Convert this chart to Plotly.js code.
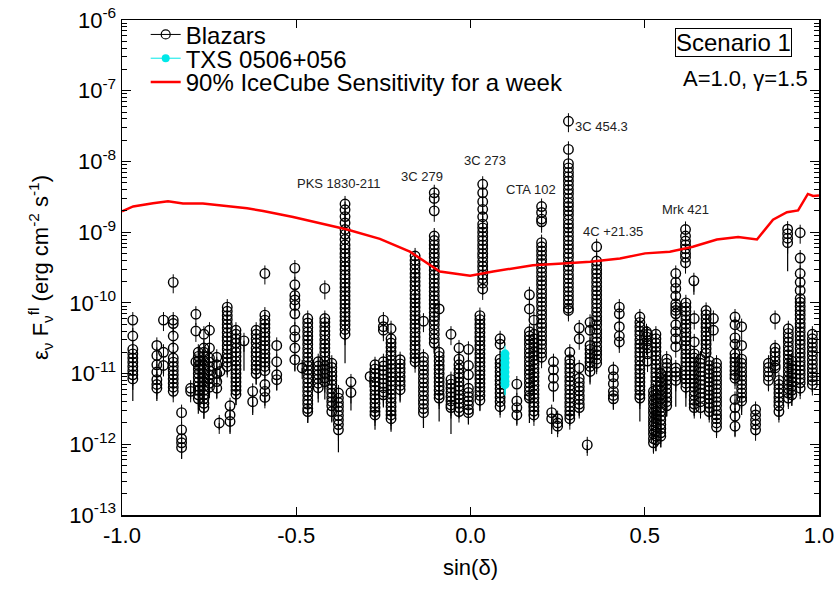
<!DOCTYPE html>
<html>
<head>
<meta charset="utf-8">
<script src="https://cdn.plot.ly/plotly-3.0.1.min.js"></script>
<style>html,body{margin:0;padding:0;background:#fff;}#chart{width:837px;height:597px;}</style>
</head>
<body>
<div id="chart"></div>
<script>
// ---- Blazars: sin(declination) of each source, its flare fluxes, and lower end of the error bar of its faintest point
const srcSinDec = [
 -0.969,-0.900,-0.881,-0.853,-0.829,-0.803,-0.788,-0.781,-0.765,-0.749,
 -0.728,-0.719,-0.721,-0.698,-0.690,-0.673,-0.650,-0.625,-0.615,-0.590,
 -0.556,-0.504,-0.483,-0.467,-0.437,-0.418,-0.398,-0.379,-0.360,-0.343,
 -0.288,-0.274,-0.250,-0.228,-0.202,-0.159,-0.135,-0.104,-0.090,-0.056,
 -0.033,-0.006, 0.035, 0.027, 0.085, 0.133, 0.169, 0.182, 0.204, 0.281,
  0.238, 0.233, 0.250, 0.285, 0.312, 0.335, 0.343, 0.362, 0.410, 0.427,
  0.486, 0.505, 0.525, 0.532, 0.546, 0.563, 0.508, 0.617, 0.589, 0.641,
  0.618, 0.642, 0.676, 0.697, 0.706, 0.685, 0.660, 0.759, 0.778, 0.818,
  0.855, 0.874, 0.885, 0.910, 0.912, 0.946, 0.981, 0.922
];
const srcErrLow = [
 4.1e-12,4.1e-12,1.0e-11,5.0e-12,6.2e-13,5.0e-12,1.3e-11,2.7e-12,2.3e-12,5.0e-12,
 4.5e-12,8.0e-12,1.6e-12,9.6e-12,1.4e-12,3.6e-12,1.1e-11,2.6e-12,7.0e-12,3.5e-12,
 5.8e-12,1.07e-11,1.0e-11,2.0e-12,3.9e-12,4.3e-12,2.1e-12,7.7e-13,1.4e-11,3.0e-12,
 7.0e-12,1.6e-12,3.3e-12,1.5e-12,3.9e-12,1.2e-11,1.7e-12,2.0e-11,2.1e-12,1.4e-12,
 2.4e-12,1.9e-12,1.3e-10,3.0e-12,2.6e-12,1.9e-12,2.0e-12,2.3e-12,1.4e-11,7.0e-11,
 4.0e-12,1.4e-12,1.4e-12,1.9e-12,2.5e-12,7.5e-13,7.0e-12,1.05e-11,3.1e-12,2.2e-11,
 2.1e-12,2.2e-11,7.7e-13,8.0e-13,9.0e-13,2.5e-12,1.3e-11,3.0e-10,3.4e-12,1.3e-10,
 3.4e-12,2.5e-12,1.7e-11,3.5e-11,1.3e-12,2.2e-12,2.6e-12,1.3e-12,2.6e-12,1.3e-12,
 5.8e-12,9.0e-12,2.2e-12,2.8e-10,3.4e-12,4.8e-12,5.5e-12,3.5e-12
];
const srcFlux = [
 [5.7e-11,3.4e-11,2.2e-11,1.9e-11,1.66e-11,1.45e-11,1.26e-11,1.1e-11,9.6e-12,8.4e-12],
 [2.5e-11,1.8e-11,1.33e-11,1.05e-11,8.2e-12,7.0e-12,6.2e-12],
 [5.7e-11,2.0e-11,1.3e-11],
 [1.95e-10,5.7e-11,5.1e-11,3.4e-11,2.3e-11,1.66e-11,1.45e-11,1.26e-11,1.1e-11,9.6e-12,8.4e-12,7.3e-12,6.4e-12,5.6e-12],
 [2.8e-12,1.6e-12,1.2e-12,1.05e-12,9.0e-13],
 [6.2e-12,5.6e-12],
 [6.9e-11,4.0e-11,1.47e-11],
 [2.0e-11,1.75e-11,1.5e-11,1.3e-11,1.15e-11,1.0e-11,8.7e-12,7.6e-12,6.6e-12,5.8e-12,5.0e-12,4.4e-12],
 [3.6e-11,2.3e-11,2.0e-11,1.75e-11,1.5e-11,1.3e-11,1.15e-11,1.0e-11,8.7e-12,7.6e-12,6.6e-12,5.8e-12,5.0e-12,4.4e-12,3.8e-12,3.3e-12],
 [4.1e-11,2.3e-11,1.66e-11,1.45e-11,1.26e-11,1.1e-11,9.6e-12,8.4e-12,7.3e-12,6.4e-12],
 [1.7e-11,1.33e-11,1.0e-11,7.7e-12,6.2e-12],
 [1.07e-11],
 [2.0e-12],
 [8.7e-11,7.6e-11,6.6e-11,5.8e-11,5.0e-11,4.4e-11,3.8e-11,3.3e-11,2.9e-11,2.5e-11,2.2e-11,1.9e-11,1.66e-11,1.45e-11,1.26e-11],
 [3.5e-12,2.6e-12,2.1e-12],
 [4.1e-11,3.6e-11,3.1e-11,2.7e-11,2.3e-11,2.0e-11,1.75e-11,1.5e-11,1.3e-11,1.15e-11,1.0e-11,8.7e-12,7.6e-12,6.6e-12,5.8e-12,5.1e-12],
 [2.9e-11],
 [5.6e-12,4.0e-12],
 [4.1e-11,3.6e-11,3.1e-11,2.7e-11,2.3e-11,2.0e-11,1.75e-11,1.5e-11,1.3e-11,1.15e-11,1.0e-11],
 [2.6e-10,6.7e-11,5.7e-11,5.0e-11,4.4e-11,3.8e-11,3.3e-11,2.9e-11,2.5e-11,2.2e-11,1.9e-11,1.66e-11,1.45e-11,1.26e-11,1.1e-11,7.0e-12,5.6e-12,4.6e-12],
 [2.5e-11,1.47e-11,9.6e-12,8.2e-12],
 [3.1e-10,1.8e-10,1.27e-10,1.1e-10,9.2e-11,7.0e-11,4.1e-11,3.3e-11,2.3e-11,1.57e-11],
 [1.2e-11],
 [6.0e-11,5.2e-11,4.5e-11,3.9e-11,3.4e-11,3.0e-11,2.6e-11,2.25e-11,1.95e-11,1.7e-11,1.48e-11,1.29e-11,1.12e-11,9.8e-12,8.5e-12,7.4e-12,6.4e-12,5.6e-12,4.9e-12,4.2e-12,3.7e-12,3.2e-12,2.9e-12],
 [1.47e-11,1.28e-11,1.11e-11,9.7e-12,8.4e-12,7.3e-12,6.3e-12],
 [1.6e-10,6.0e-11,5.3e-11,4.6e-11,4.0e-11,3.5e-11,3.0e-11,2.6e-11,2.3e-11,2.0e-11,1.75e-11,1.5e-11,1.3e-11,1.15e-11,1.0e-11,8.7e-12,7.7e-12],
 [1.4e-11,1.22e-11,1.06e-11,9.2e-12,8.0e-12,7.0e-12,6.1e-12,5.3e-12,4.6e-12,4.0e-12,3.5e-12,2.9e-12],
 [5.3e-12,4.5e-12,3.9e-12,3.4e-12,2.95e-12,2.55e-12,2.2e-12,1.9e-12,1.6e-12],
 [2.5e-9,2.07e-9,1.66e-9,1.35e-9,1.09e-9,9.3e-10,7.9e-10,6.6e-10,5.8e-10,5.0e-10,4.4e-10,3.8e-10,3.3e-10,2.9e-10,2.5e-10,2.2e-10,1.9e-10,1.66e-10,1.45e-10,1.26e-10,1.1e-10,9.6e-11,8.4e-11,7.3e-11,6.4e-11,5.6e-11,4.9e-11,4.2e-11,3.6e-11],
 [7.6e-12,5.4e-12],
 [9.1e-12],
 [1.33e-11,1.16e-11,1.0e-11,8.8e-12,7.6e-12,6.6e-12,5.8e-12,5.0e-12,4.4e-12,3.8e-12,3.3e-12,2.9e-12,2.6e-12],
 [5.7e-11,4.6e-11,4.1e-11,1.47e-11,1.28e-11,1.11e-11,9.7e-12,8.4e-12,7.3e-12,6.3e-12,5.5e-12,5.0e-12],
 [4.3e-11,3.1e-11,2.7e-11,2.35e-11,2.05e-11,1.8e-11,1.55e-11,1.35e-11,1.18e-11,1.03e-11,9.0e-12,7.8e-12,6.8e-12,5.9e-12,5.1e-12,4.5e-12,3.9e-12,3.4e-12,2.95e-12,2.6e-12,2.3e-12],
 [1.57e-11,1.37e-11,1.19e-11,1.04e-11,9.0e-12,7.8e-12,6.8e-12,5.9e-12],
 [4.6e-10,4.0e-10,3.5e-10,3.0e-10,2.6e-10,2.3e-10,2.0e-10,1.75e-10,1.5e-10,1.3e-10,1.15e-10,1.0e-10,8.7e-11,7.6e-11,6.6e-11,5.8e-11,5.0e-11,4.4e-11,3.8e-11,3.3e-11,2.9e-11,2.5e-11,2.2e-11,1.9e-11,1.66e-11,1.47e-11],
 [5.5e-11,1.7e-11,1.48e-11,1.29e-11,1.12e-11,9.8e-12,8.5e-12,7.4e-12,6.4e-12,5.6e-12,4.9e-12,4.2e-12,3.7e-12,3.2e-12,2.8e-12],
 [3.6e-9,3.0e-9,2.0e-9,8.8e-10,7.6e-10,6.6e-10,5.8e-10,5.0e-10,4.4e-10,3.8e-10,3.3e-10,2.9e-10,2.5e-10,2.2e-10,1.9e-10,1.66e-10,1.45e-10,1.26e-10,1.1e-10,9.6e-11,8.4e-11,7.3e-11,6.4e-11,5.6e-11,4.9e-11,4.2e-11,3.6e-11,3.1e-11,2.7e-11],
 [8.2e-11,2.0e-11,1.75e-11,1.5e-11,1.3e-11,1.15e-11,1.0e-11,8.7e-12,7.6e-12,6.6e-12,5.8e-12,5.0e-12,4.5e-12],
 [3.6e-11,8.2e-12,7.1e-12,6.2e-12,5.4e-12,4.7e-12,4.1e-12,3.6e-12,3.3e-12],
 [2.3e-11,1.6e-11,1.33e-11,1.16e-11,1.0e-11,8.8e-12,7.6e-12,6.6e-12,5.8e-12,5.0e-12,4.4e-12,3.8e-12,3.3e-12,2.9e-12],
 [2.2e-11,1.3e-11,9.6e-12,6.2e-12,5.4e-12,4.7e-12,4.1e-12,3.6e-12,3.1e-12,2.8e-12],
 [4.75e-9,3.6e-9,2.7e-9,2.1e-9,1.65e-9,1.3e-9,1.15e-9,1.0e-9,8.7e-10,7.6e-10,6.6e-10,5.8e-10,5.0e-10,4.4e-10,3.8e-10,3.3e-10,2.9e-10,2.5e-10,2.2e-10,1.9e-10,1.57e-10],
 [6.6e-11,5.8e-11,5.0e-11,4.4e-11,3.8e-11,3.3e-11,2.9e-11,2.5e-11,2.2e-11,1.9e-11,1.66e-11,1.45e-11,1.26e-11,1.1e-11,9.6e-12,8.4e-12,7.3e-12,6.4e-12,5.6e-12,4.9e-12,4.2e-12],
 [3.1e-11,2.6e-11,1.6e-11,1.4e-11,1.22e-11,1.06e-11,9.2e-12,8.0e-12,7.0e-12,6.1e-12,5.3e-12,4.6e-12,4.0e-12,3.4e-12],
 [7.1e-12,4.1e-12,3.3e-12,2.6e-12],
 [1.3e-10,8.2e-11,3.9e-11,3.4e-11,3.0e-11,2.6e-11,2.25e-11,1.95e-11,1.7e-11,1.48e-11,1.29e-11,1.12e-11,9.8e-12,8.5e-12,7.4e-12,6.4e-12,5.6e-12,4.9e-12,4.5e-12],
 [5.7e-11,3.6e-11,3.1e-11,2.7e-11,2.35e-11,2.05e-11,1.8e-11,1.55e-11,1.35e-11,1.18e-11,1.03e-11,9.0e-12,7.8e-12,6.8e-12,5.9e-12,5.1e-12,4.5e-12,3.9e-12,3.4e-12,2.95e-12,2.6e-12],
 [2.3e-9,1.9e-9,1.53e-9,1.4e-9,7.1e-10,6.2e-10,5.4e-10,4.7e-10,4.1e-10,3.6e-10,3.1e-10,2.7e-10,2.35e-10,2.05e-10,1.8e-10,1.55e-10,1.35e-10,1.18e-10,1.03e-10,9.0e-11,7.8e-11,6.8e-11,5.9e-11,5.1e-11,4.5e-11,3.9e-11,3.4e-11,2.95e-11,2.6e-11,2.25e-11,1.95e-11,1.7e-11],
 [3.7e-8,1.48e-8,9.3e-9,8.1e-9,7.0e-9,6.1e-9,5.3e-9,4.6e-9,4.0e-9,3.5e-9,3.0e-9,2.6e-9,2.3e-9,2.0e-9,1.75e-9,1.5e-9,1.3e-9,1.15e-9,1.0e-9,8.7e-10,7.6e-10,6.6e-10,5.8e-10,5.0e-10,4.4e-10,3.8e-10,3.3e-10,2.9e-10,2.5e-10,2.2e-10,1.9e-10,1.66e-10,1.45e-10,1.26e-10,1.1e-10,9.6e-11,8.4e-11,7.8e-11],
 [1.47e-11,1.13e-11,8.6e-12,6.6e-12],
 [2.8e-12,2.3e-12],
 [2.3e-12,2.0e-12,1.8e-12],
 [2.0e-11,1.57e-11,1.37e-11,1.19e-11,1.04e-11,9.0e-12,7.8e-12,6.8e-12,5.9e-12,5.1e-12,4.5e-12,3.9e-12,3.4e-12,2.95e-12,2.6e-12,2.3e-12],
 [4.4e-11,3.1e-11,1.2e-11,8.6e-12,7.5e-12,6.5e-12,5.7e-12,4.9e-12,4.3e-12,3.7e-12,3.3e-12],
 [9.8e-13],
 [5.3e-11,4.1e-11,2.5e-11,2.2e-11,1.9e-11,1.66e-11,1.45e-11,1.26e-11,1.07e-11],
 [6.2e-10,3.9e-10,3.4e-10,2.95e-10,2.6e-10,2.25e-10,1.95e-10,1.7e-10,1.48e-10,1.29e-10,1.12e-10,9.8e-11,8.5e-11,7.4e-11,6.4e-11,5.6e-11,4.9e-11,4.2e-11,3.7e-11,3.2e-11,2.8e-11,2.4e-11,2.1e-11,1.85e-11,1.6e-11,1.4e-11],
 [1.13e-11,9.0e-12,7.2e-12,5.6e-12,4.9e-12,4.4e-12],
 [8.7e-11,7.0e-11,4.6e-11,3.4e-11,2.8e-11],
 [6.3e-11,5.3e-11,4.6e-11,4.0e-11,3.5e-11,3.0e-11,2.6e-11,2.3e-11,2.0e-11,1.75e-11,1.5e-11,1.3e-11,1.15e-11,1.0e-11,8.7e-12,7.6e-12,6.6e-12,5.8e-12,5.0e-12,4.5e-12],
 [3.9e-11,3.3e-11,2.6e-11],
 [5.6e-12,4.9e-12,4.2e-12,3.7e-12,3.2e-12,2.8e-12,2.4e-12,2.1e-12,1.85e-12,1.6e-12,1.4e-12,1.2e-12,1.05e-12],
 [3.6e-11,3.1e-11,2.7e-11,2.35e-11,2.05e-11,1.8e-11,1.55e-11,1.35e-11,1.18e-11,1.03e-11,9.0e-12,7.8e-12,6.8e-12,5.9e-12,5.1e-12,4.5e-12,3.9e-12,3.4e-12,2.95e-12,2.6e-12,2.3e-12,2.0e-12,1.75e-12,1.5e-12,1.3e-12,1.15e-12],
 [1.0e-11,8.7e-12,7.6e-12,6.6e-12,5.8e-12,5.0e-12,4.4e-12,3.8e-12,3.3e-12,2.9e-12,2.5e-12,2.2e-12,1.9e-12,1.66e-12,1.45e-12,1.3e-12],
 [1.6e-11,1.4e-11,1.22e-11,1.06e-11,9.2e-12,8.0e-12,7.0e-12,6.1e-12,5.3e-12,4.6e-12,4.0e-12,3.5e-12],
 [3.6e-11,2.9e-11,2.3e-11,1.9e-11,1.5e-11],
 [1.09e-9,8.8e-10,7.5e-10,6.6e-10,5.8e-10,5.0e-10,4.4e-10,3.7e-10],
 [2.6e-10,1.95e-10,1.6e-10,1.25e-10,9.7e-11,8.7e-11,7.8e-11,7.0e-11,4.9e-11,3.9e-11,3.1e-11,2.4e-11,1.2e-11,1.05e-11,9.2e-12,8.0e-12],
 [2.05e-10],
 [1.0e-10,8.7e-11,7.6e-11,6.6e-11,5.8e-11,5.0e-11,4.4e-11,3.8e-11,3.3e-11,2.9e-11,2.5e-11,2.2e-11,1.9e-11,1.66e-11,1.45e-11,1.26e-11,1.1e-11,9.6e-12,8.4e-12,7.3e-12,6.4e-12],
 [6.0e-11,2.8e-11,1.9e-11,1.66e-11,1.45e-11,1.26e-11,1.1e-11,9.6e-12,8.4e-12,7.3e-12,6.4e-12,5.6e-12,4.9e-12,4.2e-12,3.7e-12,3.3e-12],
 [7.8e-11,6.8e-11,5.9e-11,5.1e-11,4.5e-11,3.9e-11,3.4e-11,2.95e-11,2.6e-11,2.25e-11,1.95e-11],
 [6.0e-11,4.1e-11],
 [1.4e-11,1.22e-11,1.06e-11,9.2e-12,8.0e-12,7.0e-12,6.1e-12,5.3e-12,4.6e-12,4.0e-12,3.5e-12,3.0e-12,2.6e-12,2.3e-12,2.0e-12,1.75e-12],
 [1.5e-11,1.3e-11,1.15e-11,1.0e-11,8.7e-12,7.6e-12,6.6e-12,5.8e-12,5.0e-12,4.4e-12,3.8e-12,3.3e-12,2.9e-12],
 [1.6e-11,1.4e-11,1.22e-11,1.06e-11,9.2e-12,8.0e-12,7.0e-12,6.1e-12,5.3e-12,4.6e-12,4.0e-12,3.3e-12],
 [6.3e-11,4.9e-11,3.2e-11,2.6e-11,1.9e-11,1.66e-11,1.45e-11,1.26e-11,1.1e-11,9.6e-12,8.6e-12,4.3e-12,3.3e-12,2.5e-12,1.8e-12],
 [4.6e-11,2.5e-11,1.6e-11,1.4e-11,1.22e-11,1.06e-11,9.2e-12,8.0e-12,7.0e-12,6.1e-12,5.3e-12,4.6e-12,4.1e-12],
 [3.1e-12,2.6e-12,2.2e-12,1.9e-12,1.6e-12],
 [1.4e-11,1.22e-11,1.06e-11,9.2e-12,8.0e-12],
 [6.0e-11,2.3e-11,2.0e-11,1.75e-11,1.5e-11,1.3e-11,1.2e-11],
 [8.0e-12,7.0e-12,6.1e-12,5.3e-12,4.6e-12,4.0e-12,3.5e-12,2.9e-12],
 [1.1e-9,9.5e-10,8.2e-10,7.1e-10],
 [4.3e-11,3.7e-11,3.2e-11,2.8e-11,2.4e-11,2.1e-11,1.85e-11,1.6e-11,1.4e-11,1.22e-11,1.06e-11,9.2e-12,8.0e-12,7.0e-12,6.1e-12,5.3e-12,4.5e-12],
 [9.8e-10,4.3e-10,2.6e-10,1.95e-10,1.5e-10,1.15e-10,1.02e-10,8.9e-11,7.8e-11,6.8e-11,5.9e-11,5.1e-11,4.5e-11,3.9e-11,3.4e-11,2.95e-11,2.6e-11,2.25e-11,1.95e-11,1.7e-11,1.48e-11,1.29e-11,1.12e-11,9.8e-12,8.5e-12,7.4e-12,6.2e-12],
 [3.6e-11,3.1e-11,2.7e-11,2.35e-11,2.05e-11,1.8e-11,1.55e-11,1.35e-11,1.18e-11,1.03e-11,9.0e-12,8.0e-12,7.0e-12],
 [1.5e-11,1.3e-11,1.15e-11,1.0e-11,8.7e-12,7.6e-12,6.6e-12,5.8e-12,5.0e-12]
];

// ---- TXS 0506+056
const txsSinDec = 0.099;
const txsFlux = [1.9e-11,1.65e-11,1.42e-11,1.22e-11,1.05e-11,9.0e-12,7.8e-12,7.0e-12];
const txsErrLow = 5.0e-12;

// ---- 90% IceCube sensitivity for a week
const sensSinDec = [-1.0,-0.968,-0.911,-0.868,-0.825,-0.768,-0.641,-0.595,-0.509,-0.412,-0.354,-0.260,-0.174,-0.088,-0.030,-0.001,0.065,0.179,0.277,0.343,0.429,0.501,0.572,0.638,0.707,0.768,0.822,0.868,0.908,0.940,0.968,0.983,1.0];
const sensFlux  = [1.97e-9,2.31e-9,2.57e-9,2.74e-9,2.55e-9,2.55e-9,2.17e-9,1.99e-9,1.64e-9,1.28e-9,1.09e-9,8.05e-10,5.3e-10,2.78e-10,2.55e-10,2.42e-10,2.78e-10,3.4e-10,3.63e-10,3.8e-10,4.23e-10,5.01e-10,5.3e-10,6.22e-10,7.87e-10,8.51e-10,7.87e-10,1.5e-9,1.91e-9,2.03e-9,3.47e-9,3.25e-9,3.3e-9];

// ---- source labels
const labelText    = ['PKS 1830-211','3C 279','3C 273','CTA 102','3C 454.3','4C +21.35','Mrk 421'];
const labelSinDec  = [-0.377,-0.139,0.041,0.175,0.376,0.408,0.617];
const labelFlux    = [4.9e-9,6.2e-9,1.04e-8,4.04e-9,3.1e-8,1.03e-9,2.07e-9];

// ---- axis ticks
const yTickVals = [1e-13,1e-12,1e-11,1e-10,1e-9,1e-8,1e-7,1e-6];
const yTickText = ['10<sup>-13</sup>','10<sup>-12</sup>','10<sup>-11</sup>','10<sup>-10</sup>','10<sup>-9</sup>','10<sup>-8</sup>','10<sup>-7</sup>','10<sup>-6</sup>'];
const xTickVals = [-1,-0.5,0,0.5,1];
const xTickText = ['-1.0','-0.5','0.0','0.5','1.0'];

// ---- build traces
const bx = [], by = [], tx = [], ty = [];
srcSinDec.forEach((s, i) => {
  srcFlux[i].forEach(f => { bx.push(s); by.push(f); });
  tx.push(s, s, null);
  ty.push(Math.min(...srcFlux[i]), srcErrLow[i], null);
});
const minorVals = [];
for (let e = -13; e < -6; e++) for (let m = 2; m <= 9; m++) minorVals.push(m * Math.pow(10, e));

const FONT = 'Liberation Sans, Arial, Helvetica, sans-serif';
const CYAN = '#00e8e8';
const traces = [
  {x: tx, y: ty, mode: 'lines', line: {color: '#000', width: 1.2}, showlegend: false, hoverinfo: 'skip'},
  {x: bx, y: by, mode: 'markers', showlegend: false,
   marker: {symbol: 'circle-open', size: 9.5, color: '#000', line: {width: 1.4, color: '#000'}},
   error_y: {type: 'percent', value: 30, color: '#000', thickness: 1, width: 0}},
  {x: [txsSinDec, txsSinDec], y: [Math.min(...txsFlux), txsErrLow], mode: 'lines', line: {color: CYAN, width: 1.2}, showlegend: false, hoverinfo: 'skip'},
  {x: txsFlux.map(() => txsSinDec), y: txsFlux, mode: 'markers', showlegend: false,
   marker: {symbol: 'circle', size: 9, color: CYAN, line: {width: 0}},
   error_y: {type: 'percent', value: 30, color: CYAN, thickness: 1, width: 0}},
  {x: sensSinDec, y: sensFlux, mode: 'lines', line: {color: '#ff0000', width: 2.5}, showlegend: false},
  // legend entries (one legend box each, to keep the original line spacing)
  {x: [null], y: [null], name: 'Blazars', mode: 'lines+markers', legend: 'legend', line: {color: '#000', width: 1},
   marker: {symbol: 'circle-open', size: 9, color: '#000', line: {width: 1.2}}},
  {x: [null], y: [null], name: 'TXS 0506+056', mode: 'lines+markers', legend: 'legend2', line: {color: CYAN, width: 1},
   marker: {symbol: 'circle', size: 8, color: CYAN}},
  {x: [null], y: [null], name: '90% IceCube Sensitivity for a week', mode: 'lines', legend: 'legend3', line: {color: '#ff0000', width: 2.5}}
];

const annotations = labelText.map((t, i) => ({
  x: labelSinDec[i], y: Math.log10(labelFlux[i]), xref: 'x', yref: 'y', text: t, showarrow: false,
  font: {family: FONT, size: 13, color: '#222'}, xanchor: 'center', yanchor: 'middle'
}));
annotations.push({x: 0.878, y: 0.954, xref: 'paper', yref: 'paper', text: 'Scenario 1', showarrow: false,
  font: {family: FONT, size: 24, color: '#000'}, bordercolor: '#000', borderwidth: 1, borderpad: 0,
  xanchor: 'center', yanchor: 'middle'});
annotations.push({x: 0.894, y: 0.881, xref: 'paper', yref: 'paper', text: 'A=1.0, γ=1.5', showarrow: false,
  font: {family: FONT, size: 22, color: '#000'}, xanchor: 'center', yanchor: 'middle'});

const legendBase = {x: 0.034, xanchor: 'left', yanchor: 'middle', bgcolor: 'rgba(0,0,0,0)',
                    font: {family: FONT, size: 24, color: '#000'}, tracegroupgap: 0};
const layout = {
  width: 837, height: 597,
  margin: {l: 122, r: 18, t: 15, b: 82},
  paper_bgcolor: '#fff', plot_bgcolor: '#fff',
  font: {family: FONT, color: '#000', size: 22},
  showlegend: true,
  legend:  Object.assign({}, legendBase, {y: 0.970}),
  legend2: Object.assign({}, legendBase, {y: 0.922}),
  legend3: Object.assign({}, legendBase, {y: 0.874}),
  xaxis: {range: [-1, 1], tickmode: 'array', tickvals: xTickVals, ticktext: xTickText,
          ticks: 'inside', ticklen: 8, tickwidth: 1, tickcolor: '#000',
          showline: true, linewidth: 1.5, linecolor: '#000', mirror: 'ticks',
          showgrid: false, zeroline: false, tickfont: {size: 22},
          title: {text: 'sin(δ)', font: {size: 22}, standoff: 12}, automargin: false},
  yaxis: {type: 'log', range: [-13.0001, -5.9999], tickmode: 'array', tickvals: yTickVals, ticktext: yTickText,
          ticks: 'inside', ticklen: 9, tickwidth: 1, tickcolor: '#000',
          minor: {tickmode: 'array', tickvals: minorVals, ticks: 'inside', ticklen: 5, tickcolor: '#000', tickwidth: 1, showgrid: false},
          showline: true, linewidth: 1.5, linecolor: '#000', mirror: 'ticks',
          showgrid: false, zeroline: false, tickfont: {size: 22},
          title: {text: 'ε<sub>ν</sub> F<sub>ν</sub><sup>fl</sup> (erg cm<sup>-2</sup> s<sup>-1</sup>)', font: {size: 22}, standoff: 14},
          automargin: false},
  annotations: annotations
};

Plotly.newPlot('chart', traces, layout, {displayModeBar: false, staticPlot: true});
</script>
</body>
</html>
